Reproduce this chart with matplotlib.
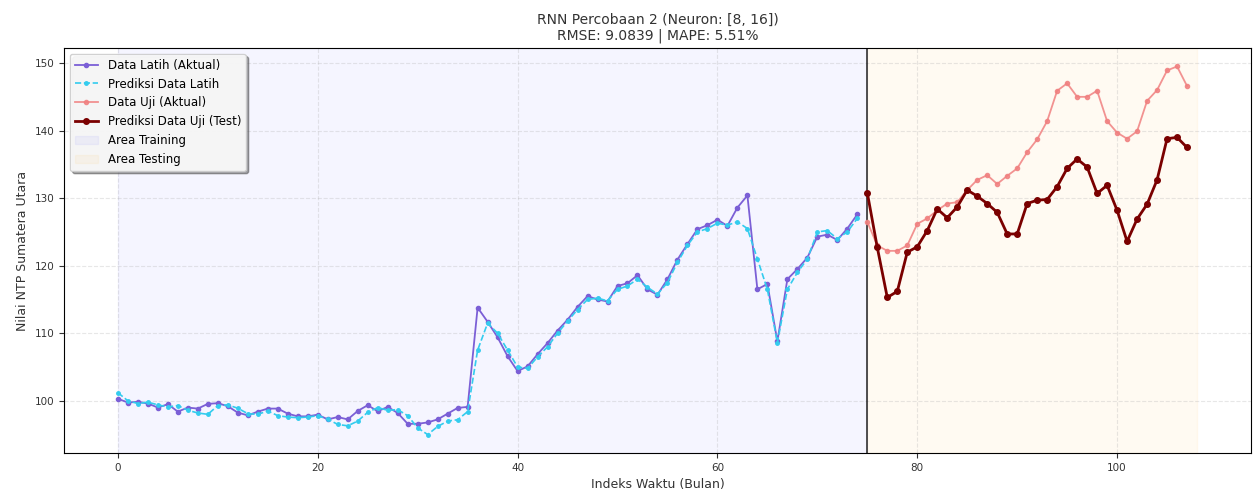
import numpy as np
import matplotlib
matplotlib.use("Agg")
import matplotlib.pyplot as plt

train_actual = [100.3, 99.75, 99.85, 99.6, 99.0, 99.5, 98.4, 99.0, 98.85, 99.55,
                99.65, 99.2, 98.25, 97.85, 98.4, 98.85, 98.85, 98.1, 97.7, 97.7,
                97.95, 97.25, 97.6, 97.25, 98.5, 99.35, 98.45, 99.1, 98.2, 96.6,
                96.6, 96.8, 97.25, 98.1, 98.95, 99.1, 113.8, 111.7, 109.4, 106.6,
                104.4, 105.1, 106.9, 108.55, 110.4, 112.0, 113.9, 115.5, 115.0, 114.7,
                117.0, 117.4, 118.6, 116.5, 115.7, 118.0, 120.9, 123.2, 125.4, 126.0,
                126.8, 125.9, 128.6, 130.4, 116.5, 117.3, 108.8, 118.0, 119.5, 121.2,
                124.3, 124.6, 123.8, 125.5, 127.6]
train_pred = [101.2, 100.0, 99.6, 99.8, 99.4, 99.1, 99.3, 98.6, 98.2, 98.0,
              99.3, 99.4, 98.9, 98.1, 98.0, 98.5, 97.8, 97.6, 97.5, 97.6,
              97.8, 97.3, 96.5, 96.3, 97.0, 98.3, 99.0, 98.6, 98.7, 97.8,
              96.0, 95.0, 96.2, 97.0, 97.2, 98.4, 107.5, 111.5, 110.0, 107.5,
              105.0, 104.8, 106.5, 108.0, 110.0, 111.8, 113.5, 115.0, 115.2, 114.8,
              116.5, 117.0, 118.0, 116.8, 115.8, 117.5, 120.5, 123.0, 125.0, 125.5,
              126.3, 126.0, 126.5, 125.5, 121.0, 116.5, 108.6, 116.5, 119.0, 121.0,
              125.0, 125.2, 124.0, 125.0, 127.0]
test_actual = [126.5, 123.0, 122.2, 122.2, 123.0, 126.2, 127.0, 128.2, 129.2, 129.4,
               131.2, 132.7, 133.4, 132.1, 133.3, 134.4, 136.8, 138.7, 141.4, 145.9,
               147.0, 145.0, 145.0, 145.9, 141.4, 139.7, 138.8, 139.9, 144.4, 146.0,
               148.9, 149.5, 146.6]
test_pred = [130.8, 122.7, 115.3, 116.2, 122.0, 122.8, 125.2, 128.4, 127.1, 128.7,
             131.2, 130.3, 129.2, 127.9, 124.7, 124.7, 129.2, 129.7, 129.8, 131.7,
             134.4, 135.8, 134.6, 130.7, 131.9, 128.2, 123.6, 126.9, 129.1, 132.7,
             138.8, 139.0, 137.5]

n_train = len(train_actual)
n_test = len(test_actual)
x_train = np.arange(n_train)
x_test = np.arange(n_train, n_train + n_test)

fig = plt.figure(figsize=(12.54, 4.9), dpi=100)
ax = fig.add_axes([0.051, 0.0755, 0.9466, 0.8265])

ax.axvspan(0, n_train, color='blue', alpha=0.04, label='Area Training')
ax.axvspan(n_train, n_train + n_test, color='orange', alpha=0.05, label='Area Testing')
ax.axvline(n_train, color='black', linewidth=1.2, alpha=0.8)

ax.plot(x_train, train_actual, color='#7b5fd6', marker='o', markersize=3,
        linewidth=1.3, label='Data Latih (Aktual)')
ax.plot(x_train, train_pred, color='#33ccee', linestyle='--', marker='o',
        markersize=2.5, linewidth=1.2, label='Prediksi Data Latih')
ax.plot(x_test, test_actual, color='#f08080', marker='o', markersize=3,
        linewidth=1.3, alpha=0.85, label='Data Uji (Aktual)')
ax.plot(x_test, test_pred, color='#7a0000', marker='o', markersize=4,
        linewidth=2.0, label='Prediksi Data Uji (Test)')

h, l = ax.get_legend_handles_labels()
order = [2, 3, 4, 5, 0, 1]
ax.legend([h[i] for i in order], [l[i] for i in order], loc='upper left',
          fontsize=8.5, shadow=True, framealpha=0.9)

ax.set_title('RNN Percobaan 2 (Neuron: [8, 16])\nRMSE: 9.0839 | MAPE: 5.51%',
             fontsize=10, color='#333333')
ax.set_xlabel('Indeks Waktu (Bulan)', fontsize=9, color='#333333')
ax.set_ylabel('Nilai NTP Sumatera Utara', fontsize=9, color='#333333')
ax.tick_params(labelsize=7.5, colors='#333333')
ax.grid(True, linestyle='--', alpha=0.3)
ax.set_yticks([100, 110, 120, 130, 140, 150])

fig.savefig('out.png', dpi=100)
